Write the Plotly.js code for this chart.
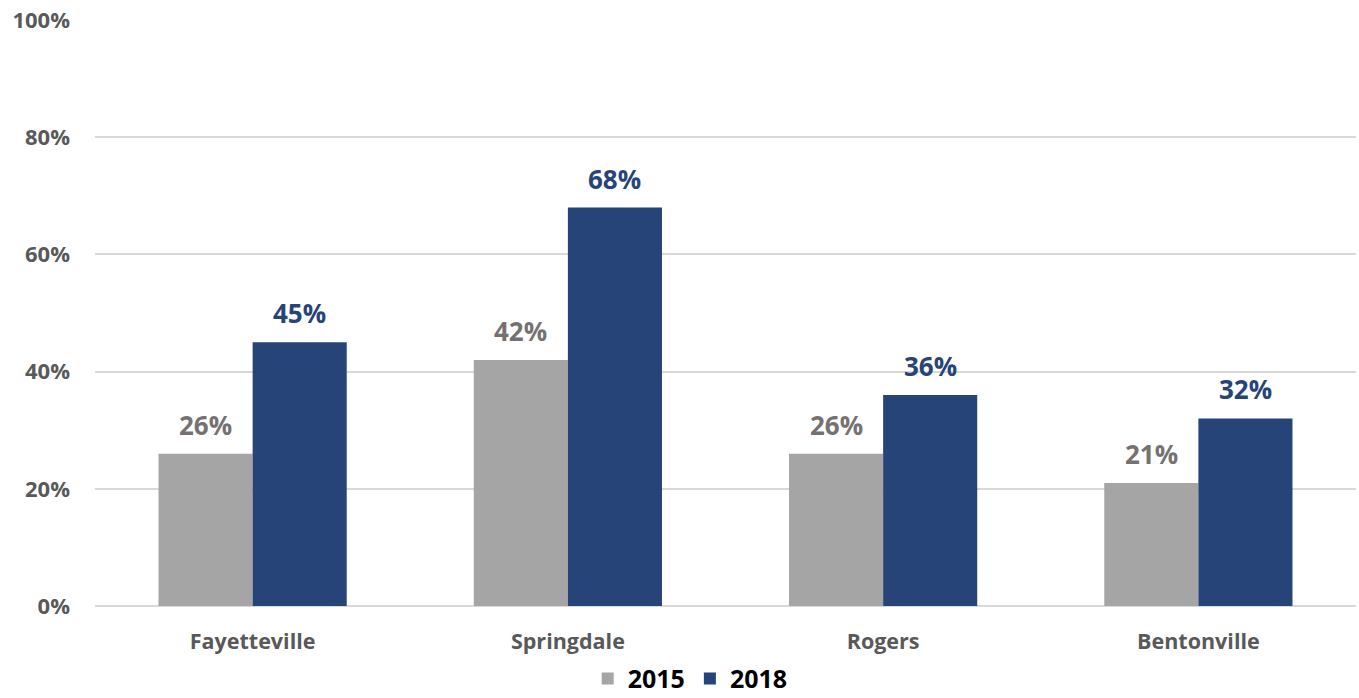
<!DOCTYPE html>
<html>
<head>
<meta charset="utf-8">
<script src="https://cdn.plot.ly/plotly-3.0.1.min.js"></script>
<style>html,body{margin:0;padding:0;background:#fff;}#chart{width:1359px;height:698px;}</style>
</head>
<body>
<div id="chart"></div>
<script>
const categories = ["Fayetteville", "Springdale", "Rogers", "Bentonville"];
const values2015 = [0.26, 0.42, 0.26, 0.21];
const values2018 = [0.45, 0.68, 0.36, 0.32];
const yTickVals = [0, 0.2, 0.4, 0.6, 0.8, 1.0];
const yTickText = ["0%", "20%", "40%", "60%", "80%", "100%"];

const FONT = "'Open Sans', 'Noto Sans', sans-serif";
const BARGAP = 0.403;
const HALF = (1 - BARGAP) / 4; // centre offset of each bar in a 2-bar group (category units)

const traces = [
  {
    type: "bar", name: "2015", x: categories, y: values2015,
    marker: {color: "#a5a5a5"}, hoverinfo: "x+y"
  },
  {
    type: "bar", name: "2018", x: categories, y: values2018,
    marker: {color: "#264478"}, hoverinfo: "x+y"
  }
];

function labels(vals, offset, color) {
  return vals.map((v, i) => ({
    xref: "x", yref: "y", x: i + offset, y: v,
    text: Math.round(v * 100) + "%",
    showarrow: false, yanchor: "bottom", xanchor: "center", yshift: 9,
    font: {family: FONT, size: 26, color: color, weight: 700}
  }));
}

const layout = {
  width: 1359, height: 698,
  margin: {l: 95, r: 3, t: 20, b: 92, autoexpand: false},
  paper_bgcolor: "#ffffff", plot_bgcolor: "#ffffff",
  font: {family: FONT, color: "#595959"},
  barmode: "group", bargap: BARGAP, bargroupgap: 0,
  showlegend: true,
  legend: {
    orientation: "h", x: 0.472, xref: "paper", xanchor: "center",
    y: -0.124, yanchor: "middle",
    font: {family: FONT, size: 25, color: "#000000", weight: 700},
    itemwidth: 30, traceorder: "normal"
  },
  xaxis: {
    type: "category", showgrid: false, zeroline: false, showline: false,
    ticks: "", tickfont: {family: FONT, size: 21.5, color: "#595959", weight: 700},
    ticklabelstandoff: 20, automargin: false
  },
  yaxis: {
    range: [0, 1.0], tickvals: yTickVals, ticktext: yTickText,
    showgrid: true, gridcolor: "#d9d9d9", gridwidth: 2,
    zeroline: true, zerolinecolor: "#d9d9d9", zerolinewidth: 2,
    showline: false, ticks: "", automargin: false,
    tickfont: {family: FONT, size: 22, color: "#595959", weight: 700},
    ticklabelstandoff: 24
  },
  annotations: labels(values2015, -HALF, "#767171").concat(labels(values2018, HALF, "#264478"))
};

Plotly.newPlot("chart", traces, layout, {displayModeBar: false, responsive: false});
</script>
</body>
</html>
